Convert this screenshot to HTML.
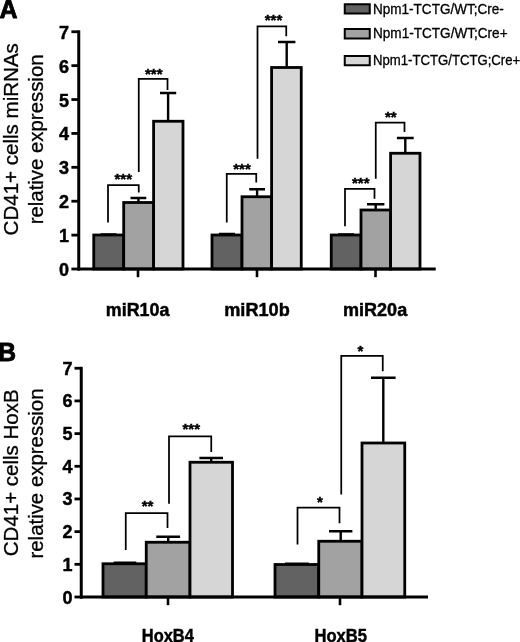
<!DOCTYPE html>
<html><head><meta charset="utf-8"><title>Figure</title>
<style>
html,body{margin:0;padding:0;background:#fff;}
body{width:520px;height:642px;overflow:hidden;}
svg{display:block;font-family:"Liberation Sans",Arial,Helvetica,sans-serif;}
.b{font-weight:bold;stroke:#000;stroke-width:0.45px;}
.r{stroke:#000;stroke-width:0.3px;}
.big{stroke-width:0.8px;}
</style></head><body>
<svg width="520" height="642" viewBox="0 0 520 642">
<rect width="520" height="642" fill="#fff"/>
<text class="b big" x="-0.6" y="17.7" font-size="25">A</text>
<text class="r" transform="translate(17.6 139.3) rotate(-90)" font-size="20.3" text-anchor="middle" textLength="192.3" lengthAdjust="spacingAndGlyphs">CD41+ cells miRNAs</text>
<text class="r" transform="translate(43 139.4) rotate(-90)" font-size="20.3" text-anchor="middle" textLength="169.9" lengthAdjust="spacingAndGlyphs">relative expression</text>
<rect x="93.75" y="235" width="29.95" height="34" fill="#626262" stroke="#000" stroke-width="2.8"/>
<rect x="123.7" y="202.5" width="29.9" height="66.5" fill="#a2a2a2" stroke="#000" stroke-width="2.8"/>
<rect x="153.6" y="121.25" width="29.4" height="147.75" fill="#d6d6d6" stroke="#000" stroke-width="2.8"/>
<rect x="212" y="235" width="30" height="34" fill="#626262" stroke="#000" stroke-width="2.8"/>
<rect x="242" y="196.75" width="29.6" height="72.25" fill="#a2a2a2" stroke="#000" stroke-width="2.8"/>
<rect x="271.6" y="67.5" width="29.65" height="201.5" fill="#d6d6d6" stroke="#000" stroke-width="2.8"/>
<rect x="331.25" y="235" width="29.75" height="34" fill="#626262" stroke="#000" stroke-width="2.8"/>
<rect x="361" y="210" width="29.6" height="59" fill="#a2a2a2" stroke="#000" stroke-width="2.8"/>
<rect x="390.6" y="153.25" width="29.4" height="115.75" fill="#d6d6d6" stroke="#000" stroke-width="2.8"/>
<path d="M78.75 30.35V270.6" stroke="#000" stroke-width="3" fill="none"/>
<path d="M77.65 269H435.75" stroke="#000" stroke-width="3.2" fill="none"/>
<path d="M71.4 269H78.75" stroke="#000" stroke-width="2.8" fill="none"/>
<text class="b" x="68.9" y="276" font-size="18" text-anchor="end">0</text>
<path d="M71.4 235.11H78.75" stroke="#000" stroke-width="2.8" fill="none"/>
<text class="b" x="68.9" y="242.11" font-size="18" text-anchor="end">1</text>
<path d="M71.4 201.21H78.75" stroke="#000" stroke-width="2.8" fill="none"/>
<text class="b" x="68.9" y="208.21" font-size="18" text-anchor="end">2</text>
<path d="M71.4 167.32H78.75" stroke="#000" stroke-width="2.8" fill="none"/>
<text class="b" x="68.9" y="174.32" font-size="18" text-anchor="end">3</text>
<path d="M71.4 133.43H78.75" stroke="#000" stroke-width="2.8" fill="none"/>
<text class="b" x="68.9" y="140.43" font-size="18" text-anchor="end">4</text>
<path d="M71.4 99.54H78.75" stroke="#000" stroke-width="2.8" fill="none"/>
<text class="b" x="68.9" y="106.54" font-size="18" text-anchor="end">5</text>
<path d="M71.4 65.64H78.75" stroke="#000" stroke-width="2.8" fill="none"/>
<text class="b" x="68.9" y="72.64" font-size="18" text-anchor="end">6</text>
<path d="M71.4 31.75H78.75" stroke="#000" stroke-width="2.8" fill="none"/>
<text class="b" x="68.9" y="38.75" font-size="18" text-anchor="end">7</text>
<path d="M138 269V277.2" stroke="#000" stroke-width="2.6" fill="none"/>
<path d="M257 269V277.2" stroke="#000" stroke-width="2.6" fill="none"/>
<path d="M375.5 269V277.2" stroke="#000" stroke-width="2.6" fill="none"/>
<path d="M100.5 234.2H116.5M108.5 234.2V235" stroke="#000" stroke-width="1.8" fill="none"/>
<path d="M130.5 198H146.3M138.4 198V202.5" stroke="#000" stroke-width="2.4" fill="none"/>
<path d="M160 93H176.2M168.1 93V121.25" stroke="#000" stroke-width="2.4" fill="none"/>
<path d="M218.9 233.6H235.1M227 233.6V235" stroke="#000" stroke-width="1.8" fill="none"/>
<path d="M249.2 189.25H265M257.1 189.25V196.75" stroke="#000" stroke-width="2.4" fill="none"/>
<path d="M278 42H295.4M286.7 42V67.5" stroke="#000" stroke-width="2.4" fill="none"/>
<path d="M338 234.2H354M346 234.2V235" stroke="#000" stroke-width="1.8" fill="none"/>
<path d="M367 204.25H384.4M375.7 204.25V210" stroke="#000" stroke-width="2.4" fill="none"/>
<path d="M396.9 138H413.7M405.3 138V153.25" stroke="#000" stroke-width="2.4" fill="none"/>
<path d="M108 222.5V185H138.75V192.5" stroke="#000" stroke-width="1.75" fill="none"/>
<text class="b" x="123.25" y="183.8" font-size="15" text-anchor="middle">***</text>
<path d="M138.75 172V78.75H167.5V90" stroke="#000" stroke-width="1.75" fill="none"/>
<text class="b" x="153.75" y="78.8" font-size="15" text-anchor="middle">***</text>
<path d="M226.75 222.5V173.75H256.25V182.5" stroke="#000" stroke-width="1.75" fill="none"/>
<text class="b" x="242" y="174.3" font-size="15" text-anchor="middle">***</text>
<path d="M257.5 158.75V26.25H286.25V36.25" stroke="#000" stroke-width="1.75" fill="none"/>
<text class="b" x="273.5" y="24.8" font-size="15" text-anchor="middle">***</text>
<path d="M345 226.25V188.75H374.5V198.75" stroke="#000" stroke-width="1.75" fill="none"/>
<text class="b" x="360.75" y="188.05" font-size="15" text-anchor="middle">***</text>
<path d="M375.75 178.75V122.5H404.5V132" stroke="#000" stroke-width="1.75" fill="none"/>
<text class="b" x="390.75" y="122.3" font-size="15" text-anchor="middle">**</text>
<text class="b" x="137.6" y="316" font-size="18" text-anchor="middle" textLength="63.6" lengthAdjust="spacingAndGlyphs">miR10a</text>
<text class="b" x="257" y="316" font-size="18" text-anchor="middle" textLength="65.5" lengthAdjust="spacingAndGlyphs">miR10b</text>
<text class="b" x="375.1" y="316" font-size="18" text-anchor="middle" textLength="64.2" lengthAdjust="spacingAndGlyphs">miR20a</text>
<rect x="344.75" y="4.25" width="25" height="9.25" fill="#626262" stroke="#000" stroke-width="2"/>
<text class="r" x="373" y="13.8" font-size="13.8" textLength="130.8" lengthAdjust="spacingAndGlyphs">Npm1-TCTG/WT;Cre-</text>
<rect x="344.75" y="29" width="25" height="9.5" fill="#a2a2a2" stroke="#000" stroke-width="2"/>
<text class="r" x="373" y="38.3" font-size="13.8" textLength="134.6" lengthAdjust="spacingAndGlyphs">Npm1-TCTG/WT;Cre+</text>
<rect x="344.75" y="56" width="25" height="9.25" fill="#d6d6d6" stroke="#000" stroke-width="2"/>
<text class="r" x="373" y="65" font-size="13.8" textLength="147.2" lengthAdjust="spacingAndGlyphs">Npm1-TCTG/TCTG;Cre+</text>
<text class="b big" x="-1.9" y="361.1" font-size="25">B</text>
<text class="r" transform="translate(17.5 472.8) rotate(-90)" font-size="20.3" text-anchor="middle" textLength="166.8" lengthAdjust="spacingAndGlyphs">CD41+ cells HoxB</text>
<text class="r" transform="translate(42.8 473.5) rotate(-90)" font-size="20.3" text-anchor="middle" textLength="170.1" lengthAdjust="spacingAndGlyphs">relative expression</text>
<rect x="103" y="563.75" width="43.25" height="33.25" fill="#626262" stroke="#000" stroke-width="2.8"/>
<rect x="146.25" y="542.25" width="43.75" height="54.75" fill="#a2a2a2" stroke="#000" stroke-width="2.8"/>
<rect x="190" y="462.25" width="42.5" height="134.75" fill="#d6d6d6" stroke="#000" stroke-width="2.8"/>
<rect x="275" y="564.5" width="43.75" height="32.5" fill="#626262" stroke="#000" stroke-width="2.8"/>
<rect x="318.75" y="541.25" width="43.25" height="55.75" fill="#a2a2a2" stroke="#000" stroke-width="2.8"/>
<rect x="362" y="443" width="42.75" height="154" fill="#d6d6d6" stroke="#000" stroke-width="2.8"/>
<path d="M81.25 366.85V598.6" stroke="#000" stroke-width="3" fill="none"/>
<path d="M80.15 597H428" stroke="#000" stroke-width="3.2" fill="none"/>
<path d="M74.5 597H81.25" stroke="#000" stroke-width="2.8" fill="none"/>
<text class="b" x="72.6" y="603.5" font-size="18" text-anchor="end">0</text>
<path d="M74.5 564.32H81.25" stroke="#000" stroke-width="2.8" fill="none"/>
<text class="b" x="72.6" y="570.82" font-size="18" text-anchor="end">1</text>
<path d="M74.5 531.64H81.25" stroke="#000" stroke-width="2.8" fill="none"/>
<text class="b" x="72.6" y="538.14" font-size="18" text-anchor="end">2</text>
<path d="M74.5 498.96H81.25" stroke="#000" stroke-width="2.8" fill="none"/>
<text class="b" x="72.6" y="505.46" font-size="18" text-anchor="end">3</text>
<path d="M74.5 466.29H81.25" stroke="#000" stroke-width="2.8" fill="none"/>
<text class="b" x="72.6" y="472.79" font-size="18" text-anchor="end">4</text>
<path d="M74.5 433.61H81.25" stroke="#000" stroke-width="2.8" fill="none"/>
<text class="b" x="72.6" y="440.11" font-size="18" text-anchor="end">5</text>
<path d="M74.5 400.93H81.25" stroke="#000" stroke-width="2.8" fill="none"/>
<text class="b" x="72.6" y="407.43" font-size="18" text-anchor="end">6</text>
<path d="M74.5 368.25H81.25" stroke="#000" stroke-width="2.8" fill="none"/>
<text class="b" x="72.6" y="374.75" font-size="18" text-anchor="end">7</text>
<path d="M168 597V605.2" stroke="#000" stroke-width="2.6" fill="none"/>
<path d="M340 597V605.2" stroke="#000" stroke-width="2.6" fill="none"/>
<path d="M113.7 562.4H136.3M125 562.4V563.75" stroke="#000" stroke-width="1.8" fill="none"/>
<path d="M156.3 536.75H180.1M168.2 536.75V542.25" stroke="#000" stroke-width="2.4" fill="none"/>
<path d="M199.4 458H223M211.2 458V462.25" stroke="#000" stroke-width="2.4" fill="none"/>
<path d="M285 563.4H308.8M296.9 563.4V564.5" stroke="#000" stroke-width="1.8" fill="none"/>
<path d="M329 531.25H352.4M340.7 531.25V541.25" stroke="#000" stroke-width="2.4" fill="none"/>
<path d="M371 377.75H395.6M383.3 377.75V443" stroke="#000" stroke-width="2.4" fill="none"/>
<path d="M125.75 550V513H167.5V528" stroke="#000" stroke-width="1.75" fill="none"/>
<text class="b" x="147.5" y="511.05" font-size="15" text-anchor="middle">**</text>
<path d="M169 503.75V436.25H211.25V452" stroke="#000" stroke-width="1.75" fill="none"/>
<text class="b" x="191.25" y="434.3" font-size="15" text-anchor="middle">***</text>
<path d="M297.5 544.5V507.5H339.5V523.25" stroke="#000" stroke-width="1.75" fill="none"/>
<text class="b" x="320" y="506.8" font-size="15" text-anchor="middle">*</text>
<path d="M341.25 494.5V355.75H382.75V371.25" stroke="#000" stroke-width="1.75" fill="none"/>
<text class="b" x="360.5" y="356.3" font-size="15" text-anchor="middle">*</text>
<text class="b" x="167.8" y="642.3" font-size="18" text-anchor="middle" textLength="52" lengthAdjust="spacingAndGlyphs">HoxB4</text>
<text class="b" x="340.7" y="642.3" font-size="18" text-anchor="middle" textLength="52.5" lengthAdjust="spacingAndGlyphs">HoxB5</text>
</svg>
</body></html>
